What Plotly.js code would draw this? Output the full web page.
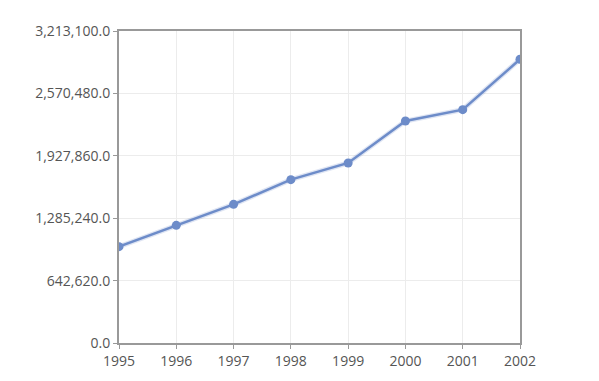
<!DOCTYPE html>
<html><head><meta charset="utf-8">
<script src="https://cdn.plot.ly/plotly-3.0.1.min.js"></script>
<style>html,body{margin:0;padding:0;background:#fff;}#chart{width:599px;height:381px;}</style>
</head><body><div id="chart"></div>
<script>
const years = [1995, 1996, 1997, 1998, 1999, 2000, 2001, 2002];
const values = [992000, 1212000, 1428000, 1682000, 1854000, 2286000, 2403000, 2922000];
const yTicks = [0, 642620, 1285240, 1927860, 2570480, 3213100];
const yTickText = yTicks.map(v => v.toLocaleString('en-US', {minimumFractionDigits: 1, maximumFractionDigits: 1}));

const shadow = {
  x: years, y: values, type: 'scatter', mode: 'lines',
  line: {color: 'rgba(110,135,200,0.22)', width: 5},
  hoverinfo: 'skip', showlegend: false
};
const main = {
  x: years, y: values, type: 'scatter', mode: 'lines+markers',
  line: {color: '#6d8cc9', width: 2.5},
  marker: {color: '#6d8cc9', size: 9},
  showlegend: false
};
const font = {family: 'Open Sans, sans-serif', size: 14, color: '#555'};
Plotly.newPlot('chart', [shadow, main], {
  width: 599, height: 381,
  margin: {l: 119, r: 79, t: 31, b: 38},
  paper_bgcolor: '#fff', plot_bgcolor: '#fff',
  font: font,
  xaxis: {
    range: [1995, 2002], tickvals: years, ticktext: years.map(String),
    showgrid: true, gridcolor: '#ececec', zeroline: false,
    showline: true, linecolor: '#999', linewidth: 2, mirror: true,
    ticks: 'outside', ticklen: 4, tickcolor: '#999', tickfont: font
  },
  yaxis: {
    range: [0, 3213100], tickvals: yTicks, ticktext: yTickText,
    showgrid: true, gridcolor: '#ececec', zeroline: false,
    showline: true, linecolor: '#999', linewidth: 2, mirror: true,
    ticks: 'outside', ticklen: 4, tickcolor: '#999', tickfont: font
  }
}, {displayModeBar: false, staticPlot: true});
</script></body></html>
